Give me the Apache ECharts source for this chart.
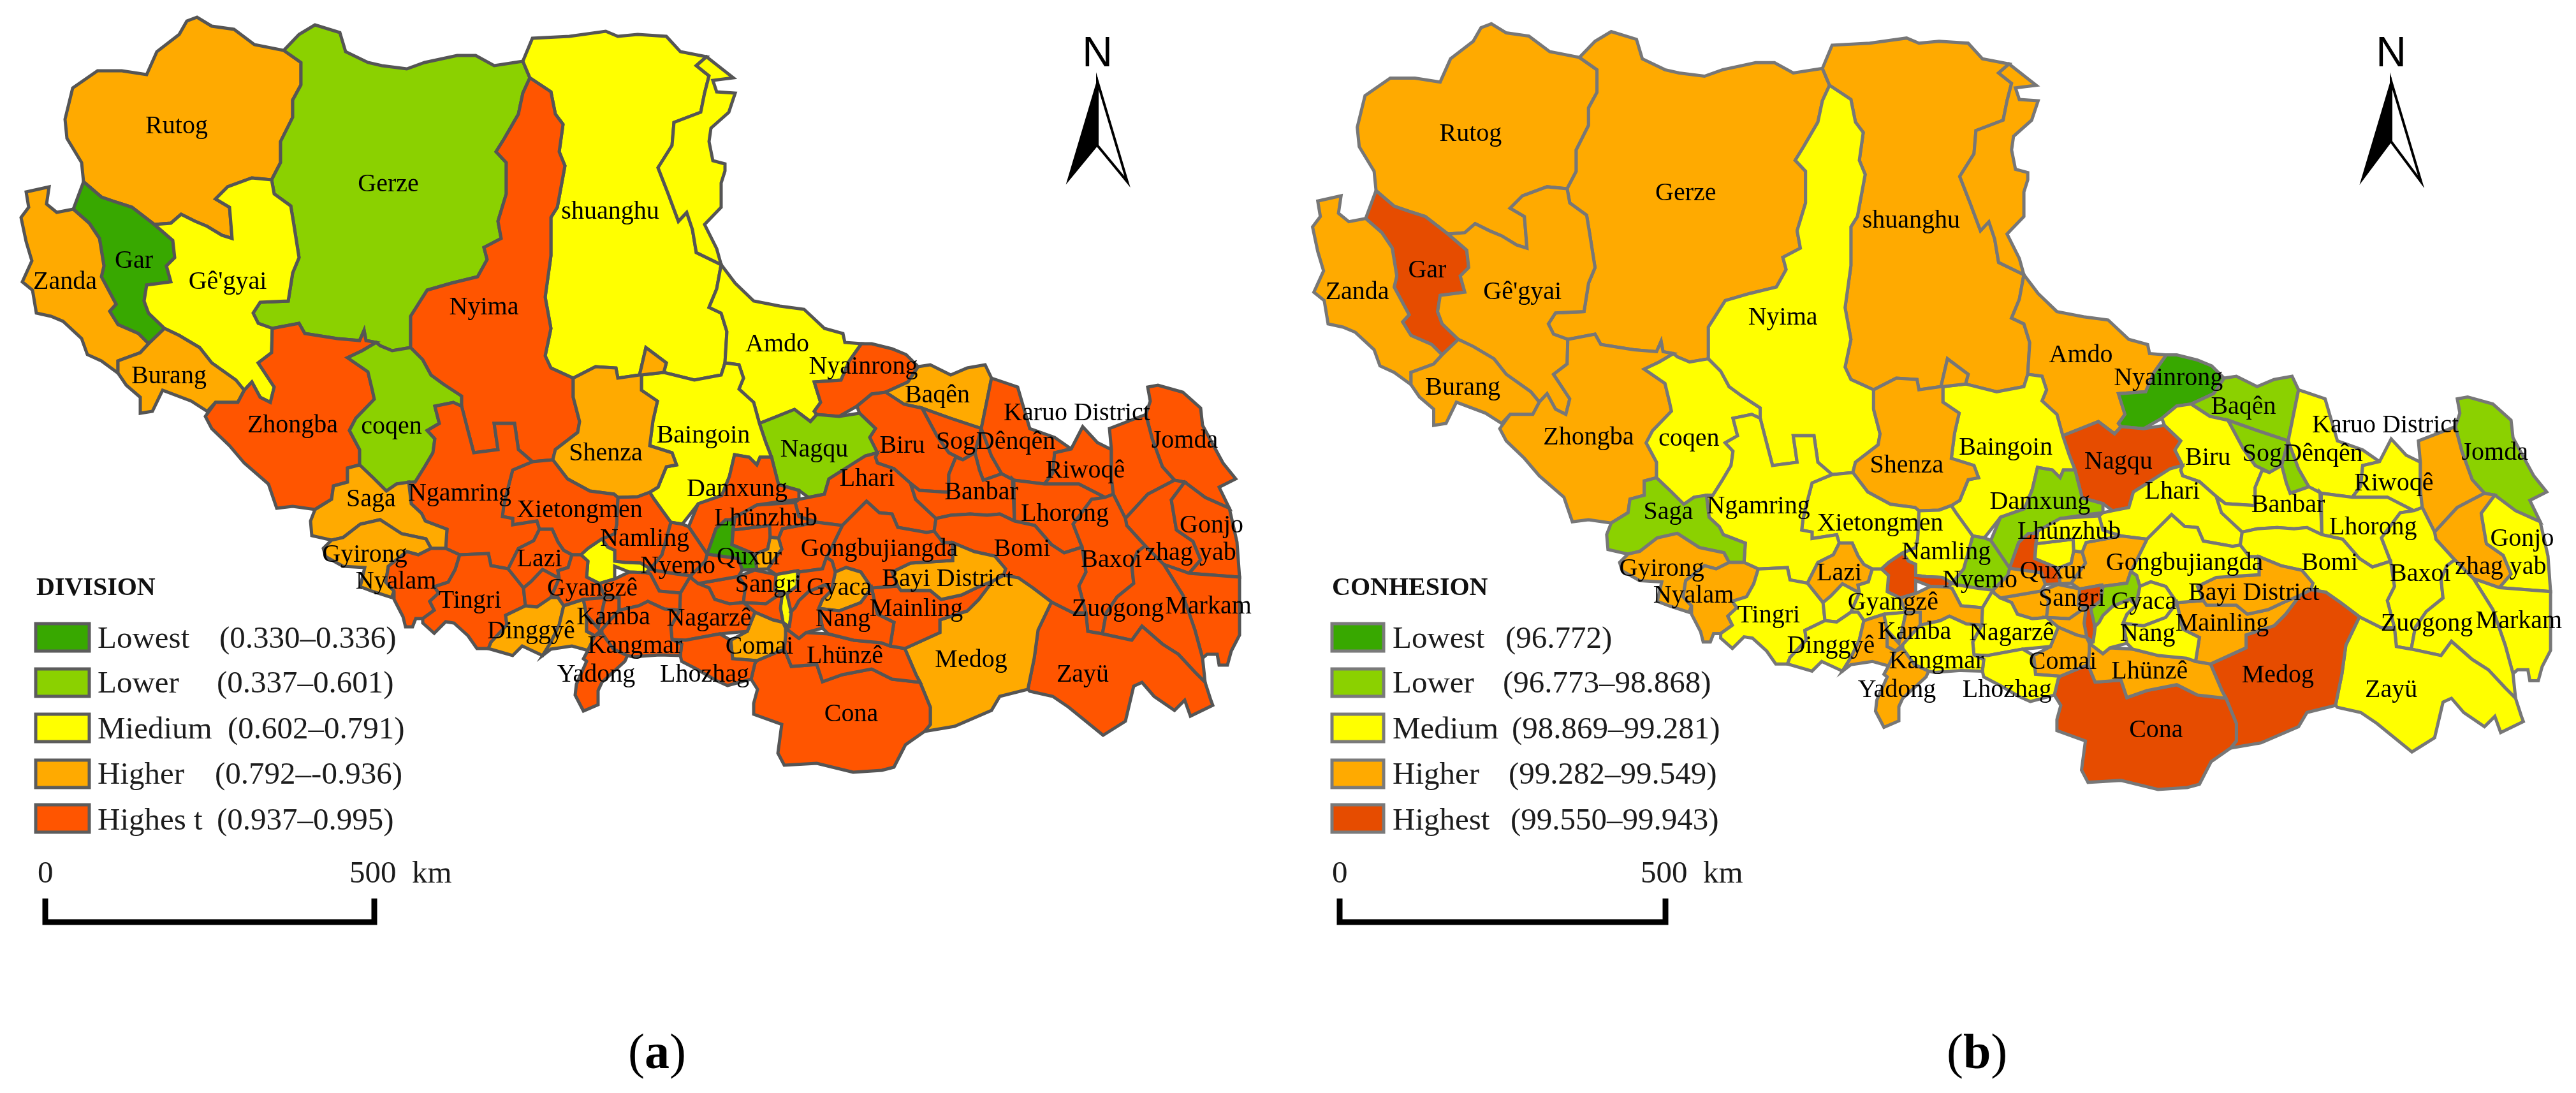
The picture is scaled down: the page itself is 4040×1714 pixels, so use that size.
<!DOCTYPE html>
<html lang="en">
<head>
<meta charset="UTF-8">
<title>Division and cohesion</title>
<script src="https://cdn.jsdelivr.net/npm/echarts@6/dist/echarts.min.js"></script>
<style>
  html, body { margin: 0; padding: 0; background: #fff; }
  #main { width: 4040px; height: 1714px; }
</style>
</head>
<body>
<div id="main"></div>
<script>
// county names, "part n" = a polygon that has no label of its own
var regionNames = ['Rutog','Gerze','shuanghu','part 1','Gar','Zanda',"Gê'gyai",'Burang','Zhongba','coqen','Nyima','Amdo','Nyainrong','Baqên','Jomda','Sog','part 2','Dênqên','Biru','Nagqu','Baingoin','Shenza','Damxung','Lhari','Banbar','Riwoqê','Lhorong','Karuo District','zhag yab','Gonjo','Markam','Baxoi','Zuogong','Zayü','Bomi','Medog','Cona','Lhünzê','Mainling','Bayi District','Gongbujiangda','Gyaca','Nang','part 3','part 4','part 5','part 6','part 7','Sangri','part 8','Comai','Nagarzê','Lhozhag','Quxur','part 9','part 10','part 11','Lhünzhub','Nyemo','part 12','Namling','part 13','Xietongmen','Ngamring','Saga','Gyirong','Nyalam','Tingri','Lazi','part 14','Gyangzê','Dinggyê','part 15','part 16','Kangmar','part 17','Kamba','Yadong'];

// class of each county, 1 lowest .. 5 highest, same order as regionNames
var divisionClass = [4,2,3,3,1,4,3,4,5,2,5,3,5,4,5,5,5,5,5,2,3,4,5,5,5,5,5,5,5,5,5,5,5,5,5,4,5,5,5,4,5,4,5,5,5,3,5,5,5,5,4,5,5,1,5,4,5,5,5,5,5,3,5,5,4,4,5,5,5,5,5,4,4,5,5,5,5,5];
var cohesionClass = [4,4,4,4,5,4,4,4,4,3,3,4,1,2,2,2,2,3,3,5,3,4,2,3,3,3,3,4,4,3,3,3,3,3,3,5,5,4,4,4,3,3,3,4,2,5,3,4,4,4,4,3,3,5,3,4,4,3,2,3,3,5,3,3,2,4,4,3,4,3,3,3,4,3,4,4,3,4];

var classColorsA = ['#38A800','#8BD100','#FFFF00','#FFAA00','#FF5500'];
var classColorsB = ['#38A800','#8BD100','#FFFF00','#FFAA00','#E64C00'];

var classNamesA = ['Lowest','Lower','Miedium','Higher','Highes t'];
var classRangesA = ['(0.330–0.336)','(0.337–0.601)','(0.602–0.791)','(0.792–-0.936)','(0.937–0.995)'];
var classNamesB = ['Lowest','Lower','Medium','Higher','Highest'];
var classRangesB = ['(96.772)','(96.773–98.868)','(98.869–99.281)','(99.282–99.549)','(99.550–99.943)'];

// county outlines in its pixels
var regionOutlines = {
  'Rutog': [[[102,187],[114,138],[153,111],[191,111],[230,117],[246,81],[281,54],[293,33],[309,27],[332,41],[367,46],[399,70],[445,79],[472,98],[472,133],[459,157],[459,184],[440,222],[440,255],[426,282],[395,279],[357,293],[338,312],[360,325],[364,374],[348,369],[325,355],[306,347],[284,336],[268,350],[242,352],[207,325],[182,317],[159,309],[131,285],[128,255],[105,217]]],
  'Gerze': [[[445,79],[469,54],[494,39],[533,51],[542,81],[577,98],[599,103],[638,108],[666,98],[717,87],[746,87],[775,103],[820,96],[831,122],[820,146],[813,179],[791,217],[778,238],[794,255],[794,304],[781,347],[786,374],[759,388],[764,407],[749,434],[708,444],[670,455],[644,496],[644,545],[615,550],[596,542],[590,537],[574,534],[571,518],[564,534],[529,531],[478,523],[469,507],[427,515],[405,507],[397,491],[408,474],[452,472],[459,428],[469,404],[460,347],[456,323],[430,304],[426,282],[440,255],[440,222],[459,184],[459,157],[472,133],[472,98]]],
  'shuanghu': [[[820,96],[835,60],[893,57],[950,49],[969,57],[1000,54],[1045,57],[1067,81],[1108,89],[1092,103],[1112,119],[1105,146],[1099,176],[1057,192],[1054,228],[1032,263],[1048,304],[1064,347],[1077,333],[1086,360],[1092,396],[1131,415],[1124,453],[1112,482],[1131,491],[1140,520],[1137,569],[1131,588],[1089,596],[1041,584],[1045,569],[1013,545],[1003,588],[969,593],[966,577],[934,575],[899,593],[864,577],[855,558],[864,515],[855,466],[864,401],[864,341],[874,325],[886,260],[877,238],[883,195],[871,179],[864,144],[831,122]]],
  'part 1': [[[1108,89],[1150,122],[1118,126],[1124,144],[1153,146],[1143,176],[1115,201],[1112,222],[1118,252],[1137,257],[1137,268],[1131,287],[1131,325],[1105,352],[1124,390],[1131,415],[1092,396],[1086,360],[1077,333],[1064,347],[1048,304],[1032,263],[1054,228],[1057,192],[1099,176],[1105,146],[1112,119],[1092,103]]],
  'Gar': [[[131,285],[115,328],[140,350],[156,374],[163,417],[159,434],[182,477],[172,488],[185,509],[217,523],[233,539],[258,515],[233,491],[226,472],[230,447],[268,442],[261,417],[274,404],[271,377],[242,352],[207,325],[182,317],[159,309]],[[271,369],[287,358],[306,359],[319,371],[293,370]]],
  'Zanda': [[[41,301],[77,293],[73,320],[89,333],[115,328],[140,350],[156,374],[163,417],[159,434],[182,477],[172,488],[185,509],[217,523],[233,539],[220,553],[185,566],[185,585],[159,566],[137,556],[128,531],[99,504],[80,496],[57,491],[51,455],[35,442],[50,409],[41,379],[33,341],[45,325]]],
  "Gê'gyai": [[[242,352],[268,350],[284,336],[306,347],[325,355],[348,369],[364,374],[360,325],[338,312],[357,293],[395,279],[426,282],[430,304],[456,323],[460,347],[469,404],[459,428],[452,472],[408,474],[397,491],[405,507],[427,515],[426,553],[405,569],[430,607],[424,631],[408,623],[395,599],[383,612],[370,596],[332,569],[313,545],[281,526],[258,515],[233,491],[226,472],[230,447],[268,442],[261,417],[274,404],[271,377]]],
  'Burang': [[[233,539],[258,515],[281,526],[313,545],[332,569],[370,596],[383,612],[373,631],[338,631],[325,645],[300,629],[255,612],[239,645],[220,648],[220,623],[198,604],[185,585],[185,566],[220,553]]],
  'Zhongba': [[[427,515],[469,507],[478,523],[529,531],[564,534],[571,518],[574,534],[590,537],[568,550],[545,561],[577,583],[584,612],[587,626],[558,656],[548,675],[564,705],[564,729],[545,734],[545,756],[523,762],[520,783],[494,799],[459,794],[434,797],[421,759],[383,726],[360,699],[332,672],[322,653],[338,631],[373,631],[383,612],[395,599],[408,623],[424,631],[430,607],[405,569],[426,553]]],
  'coqen': [[[590,537],[596,542],[615,550],[644,545],[663,564],[676,588],[695,602],[724,621],[724,637],[711,631],[682,637],[689,664],[670,675],[682,688],[679,710],[666,732],[651,756],[622,759],[606,770],[587,751],[564,729],[564,705],[548,675],[558,656],[587,626],[584,612],[577,583],[545,561],[568,550]]],
  'Nyima': [[[831,122],[864,144],[871,179],[883,195],[877,238],[886,260],[874,325],[864,341],[864,401],[855,466],[864,515],[855,558],[864,577],[899,593],[899,623],[909,661],[906,678],[871,705],[867,721],[835,724],[813,705],[807,664],[775,664],[781,705],[743,710],[733,672],[724,637],[724,621],[695,602],[676,588],[663,564],[644,545],[644,496],[670,455],[708,444],[749,434],[764,407],[759,388],[786,374],[781,347],[794,304],[794,255],[778,238],[791,217],[813,179],[820,146]]],
  'Amdo': [[[1131,415],[1153,444],[1182,472],[1223,480],[1261,485],[1293,515],[1322,523],[1325,537],[1351,539],[1332,566],[1319,596],[1277,599],[1287,631],[1277,645],[1281,650],[1271,661],[1246,642],[1191,664],[1182,631],[1159,610],[1166,593],[1159,572],[1137,569],[1140,520],[1131,491],[1112,482],[1124,453]]],
  'Nyainrong': [[[1351,539],[1367,539],[1399,547],[1421,556],[1440,575],[1424,599],[1389,615],[1367,618],[1344,637],[1316,653],[1281,650],[1277,645],[1287,631],[1277,599],[1319,596],[1332,566]]],
  'Baqên': [[[1440,575],[1459,572],[1491,588],[1517,577],[1545,572],[1555,593],[1539,672],[1491,656],[1446,640],[1418,634],[1389,615],[1424,599]]],
  'Jomda': [[[1800,607],[1816,604],[1855,615],[1883,640],[1886,667],[1918,726],[1938,751],[1912,764],[1928,797],[1890,780],[1858,756],[1842,753],[1823,732],[1807,688],[1797,650],[1804,629]]],
  'Sog': [[[1446,640],[1491,656],[1539,672],[1529,710],[1510,721],[1488,710],[1469,683]]],
  'part 2': [[[1539,672],[1555,715],[1571,743],[1542,753],[1536,737],[1529,710]]],
  'Dênqên': [[[1555,593],[1564,596],[1596,607],[1603,631],[1615,672],[1654,686],[1680,704],[1654,710],[1651,742],[1638,759],[1590,753],[1571,743],[1555,715],[1539,672]]],
  'Biru': [[[1344,637],[1367,618],[1389,615],[1418,634],[1446,640],[1469,683],[1488,710],[1510,721],[1499,717],[1488,744],[1488,772],[1442,769],[1428,758],[1402,735],[1376,726],[1373,717],[1376,710],[1364,686],[1373,672],[1348,648]]],
  'Nagqu': [[[1191,664],[1246,642],[1271,661],[1281,650],[1316,653],[1348,648],[1373,672],[1364,686],[1376,710],[1357,715],[1300,751],[1293,775],[1268,780],[1253,769],[1221,760],[1210,717],[1201,694]]],
  'Baingoin': [[[1006,588],[1041,584],[1089,596],[1131,588],[1137,569],[1159,572],[1166,593],[1159,610],[1182,631],[1191,664],[1201,694],[1210,717],[1192,717],[1187,729],[1175,717],[1152,713],[1144,747],[1132,777],[1095,790],[1070,822],[1052,819],[1026,783],[1019,772],[1032,764],[1045,732],[1061,729],[1054,710],[1019,699],[1024,660],[1031,629],[1006,612]]],
  'Shenza': [[[899,593],[934,575],[966,577],[969,593],[1003,588],[1013,545],[1045,569],[1041,584],[1006,588],[1006,612],[1031,629],[1024,660],[1019,699],[1054,710],[1061,729],[1045,732],[1032,764],[1019,772],[1000,779],[969,780],[963,775],[925,770],[890,751],[867,721],[871,705],[906,678],[909,661],[899,623]]],
  'Damxung': [[[1152,713],[1175,717],[1187,729],[1192,717],[1210,717],[1221,760],[1253,769],[1253,783],[1227,786],[1187,792],[1146,815],[1123,829],[1109,869],[1080,826],[1095,790],[1132,777],[1144,747]]],
  'Lhari': [[[1253,783],[1268,780],[1293,775],[1300,751],[1357,715],[1376,710],[1373,717],[1376,726],[1402,735],[1428,758],[1436,783],[1468,813],[1465,833],[1453,835],[1408,827],[1399,806],[1379,804],[1359,786],[1321,824],[1281,819],[1253,810],[1247,788]]],
  'Banbar': [[[1488,744],[1499,717],[1510,721],[1529,710],[1536,737],[1542,753],[1571,743],[1590,753],[1588,751],[1591,817],[1568,806],[1548,808],[1522,806],[1491,808],[1468,813],[1436,783],[1428,758],[1442,769],[1488,772]]],
  'Riwoqê': [[[1680,704],[1698,669],[1721,694],[1743,705],[1743,748],[1746,775],[1733,780],[1692,759],[1663,759],[1638,759],[1651,742],[1654,710]]],
  'Lhorong': [[[1590,753],[1638,759],[1663,759],[1692,759],[1733,780],[1712,783],[1683,822],[1697,858],[1669,867],[1649,854],[1623,824],[1591,817]]],
  'Karuo District': [[[1740,672],[1797,650],[1807,688],[1823,732],[1842,753],[1800,775],[1765,813],[1746,775],[1743,748],[1743,705]]],
  'zhag yab': [[[1800,775],[1842,753],[1858,756],[1837,784],[1845,831],[1871,849],[1883,878],[1865,899],[1825,885],[1796,856],[1767,824],[1765,813]]],
  'Gonjo': [[[1837,784],[1858,756],[1890,780],[1928,797],[1940,850],[1944,905],[1865,899],[1883,878],[1871,849],[1845,831]]],
  'Markam': [[[1825,885],[1865,899],[1944,905],[1944,996],[1931,1021],[1925,1043],[1912,1043],[1909,1026],[1893,1026],[1886,1032],[1874,988],[1855,933]]],
  'Baxoi': [[[1733,780],[1746,775],[1765,813],[1767,824],[1796,856],[1784,865],[1775,886],[1778,915],[1752,936],[1735,961],[1729,994],[1706,990],[1703,961],[1692,919],[1703,897],[1697,858],[1683,822],[1712,783]]],
  'Zuogong': [[[1796,856],[1825,885],[1855,933],[1874,988],[1886,1032],[1890,1070],[1874,1054],[1848,1026],[1823,1010],[1791,982],[1775,1004],[1729,994],[1735,961],[1752,936],[1778,915],[1775,886],[1784,865]]],
  'Zayü': [[[1649,944],[1683,961],[1703,961],[1706,990],[1729,994],[1775,1004],[1791,982],[1823,1010],[1848,1026],[1874,1054],[1890,1070],[1899,1098],[1902,1106],[1867,1123],[1858,1098],[1842,1114],[1810,1092],[1791,1070],[1778,1076],[1765,1131],[1730,1153],[1676,1109],[1651,1092],[1615,1084],[1612,1081],[1622,1032],[1628,988]]],
  'Bomi': [[[1468,813],[1491,808],[1522,806],[1548,808],[1568,806],[1591,817],[1623,824],[1649,854],[1669,867],[1697,858],[1703,897],[1692,919],[1703,961],[1683,961],[1649,944],[1620,922],[1597,906],[1574,902],[1577,892],[1560,872],[1528,865],[1494,851],[1479,851],[1465,833]]],
  'Medog': [[[1419,1017],[1437,1059],[1443,1070],[1459,1109],[1459,1136],[1450,1147],[1497,1139],[1555,1114],[1568,1092],[1612,1081],[1622,1032],[1628,988],[1649,944],[1620,922],[1597,906],[1574,902],[1557,911],[1535,940],[1517,958],[1474,972],[1474,992]]],
  'Cona': [[[1187,1036],[1230,1018],[1241,1045],[1281,1042],[1290,1069],[1321,1058],[1367,1049],[1399,1065],[1443,1070],[1459,1109],[1459,1136],[1450,1147],[1420,1168],[1402,1203],[1383,1208],[1338,1211],[1281,1197],[1230,1200],[1220,1181],[1226,1136],[1182,1120],[1182,1103],[1188,1081],[1178,1065],[1184,1040]]],
  'Lhünzê': [[[1232,985],[1253,1001],[1264,992],[1299,994],[1339,1004],[1382,1008],[1396,1013],[1419,1017],[1437,1059],[1443,1070],[1399,1065],[1367,1049],[1321,1058],[1290,1069],[1281,1042],[1241,1045],[1230,1018],[1232,997]]],
  'Mainling': [[[1367,922],[1408,919],[1413,926],[1459,926],[1476,940],[1508,933],[1531,922],[1557,911],[1535,940],[1517,958],[1474,972],[1474,992],[1419,1017],[1396,1013],[1402,976],[1376,963]]],
  'Bayi District': [[[1399,897],[1428,883],[1494,879],[1494,851],[1528,865],[1560,872],[1577,892],[1574,902],[1557,911],[1531,922],[1508,933],[1476,940],[1459,926],[1413,926],[1408,919]]],
  'Gongbujiangda': [[[1321,824],[1359,786],[1379,804],[1399,806],[1408,827],[1453,835],[1465,833],[1479,851],[1494,851],[1494,879],[1428,883],[1399,897],[1408,919],[1367,922],[1350,897],[1327,890],[1310,897],[1305,880],[1296,874],[1299,869]]],
  'Gyaca': [[[1310,897],[1327,890],[1350,897],[1367,922],[1350,945],[1316,958],[1284,954],[1290,940],[1304,926]]],
  'Nang': [[[1284,954],[1316,958],[1350,945],[1367,922],[1376,963],[1402,976],[1396,1013],[1382,1008],[1339,1004],[1299,994],[1290,985]]],
  'part 3': [[[1227,829],[1281,819],[1321,824],[1299,869],[1296,874],[1290,892],[1253,897],[1251,895],[1217,901],[1204,892],[1226,861],[1221,844]]],
  'part 4': [[[1253,897],[1290,892],[1296,874],[1305,880],[1310,897],[1304,926],[1294,917],[1268,928],[1253,942],[1247,953],[1240,960],[1234,931],[1250,919]]],
  'part 5': [[[1217,901],[1251,895],[1250,919],[1234,931],[1241,961],[1238,983],[1228,976],[1224,954],[1227,929],[1215,926]]],
  'part 6': [[[1247,953],[1253,942],[1268,928],[1294,917],[1304,926],[1290,940],[1284,954],[1290,985],[1264,992],[1253,1001],[1232,985],[1238,983],[1241,961],[1240,960]]],
  'part 7': [[[1095,915],[1158,904],[1169,919],[1166,945],[1144,947],[1121,940],[1112,922]]],
  'Sangri': [[[1158,904],[1184,894],[1217,901],[1215,926],[1227,929],[1201,947],[1166,945],[1169,919]]],
  'part 8': [[[1166,945],[1201,947],[1227,929],[1224,954],[1228,976],[1212,972],[1184,960]]],
  'Comai': [[[1184,960],[1212,972],[1228,976],[1232,985],[1232,997],[1230,1018],[1187,1036],[1149,1033],[1146,1004],[1172,990]]],
  'Nagarzê': [[[1067,930],[1083,903],[1086,908],[1095,915],[1112,922],[1121,940],[1144,947],[1166,945],[1184,960],[1172,990],[1129,994],[1075,1004],[1054,1003],[1052,983],[1066,957]]],
  'Lhozhag': [[[1054,1003],[1075,1004],[1129,994],[1146,1004],[1149,1033],[1187,1036],[1184,1040],[1178,1065],[1141,1075],[1123,1067],[1094,1050],[1069,1037],[1067,1028],[1069,1010]]],
  'Quxur': [[[1138,815],[1152,815],[1149,833],[1148,854],[1184,869],[1187,893],[1164,894],[1158,876],[1109,869],[1123,829]]],
  'part 9': [[[1150,831],[1207,824],[1208,842],[1204,861],[1184,869],[1148,854]]],
  'part 10': [[[1208,842],[1221,844],[1226,861],[1204,892],[1187,893],[1184,869],[1204,861]]],
  'part 11': [[[1109,869],[1158,876],[1164,894],[1158,904],[1095,915],[1086,908],[1083,903],[1106,880]]],
  'Lhünzhub': [[[1187,792],[1247,788],[1253,810],[1281,819],[1227,829],[1221,844],[1208,842],[1207,824],[1150,831],[1152,815],[1146,815]]],
  'Nyemo': [[[1052,819],[1070,822],[1080,826],[1109,869],[1106,880],[1083,903],[1060,900],[1030,895],[1020,892],[1038,870]]],
  'part 12': [[[1020,892],[1030,895],[1060,900],[1083,903],[1067,930],[1034,927],[1020,900],[1013,898]]],
  'Namling': [[[969,780],[1000,779],[1019,772],[1026,783],[1052,819],[1038,870],[1020,892],[1005,883],[980,882],[964,880],[964,863],[953,858],[944,845],[964,837],[967,823]]],
  'part 13': [[[944,845],[922,860],[911,870],[922,880],[920,905],[940,915],[964,908],[964,888],[987,897],[1013,898],[1020,892],[1005,883],[980,882],[964,880],[964,863],[953,858]]],
  'Xietongmen': [[[804,737],[835,724],[867,721],[890,751],[925,770],[963,775],[969,780],[967,823],[964,837],[944,845],[922,860],[911,870],[897,870],[884,863],[875,850],[866,830],[846,830],[842,817],[804,823],[804,813],[788,810],[790,793],[797,764]]],
  'Ngamring': [[[724,637],[733,672],[743,710],[781,705],[775,664],[807,664],[813,705],[835,724],[804,737],[797,764],[790,793],[788,810],[804,813],[804,823],[842,817],[846,830],[837,848],[813,860],[799,888],[797,892],[770,887],[766,868],[721,870],[699,860],[701,830],[667,817],[661,805],[645,790],[641,756],[651,756],[666,732],[679,710],[682,688],[670,675],[689,664],[682,637],[711,631]]],
  'Saga': [[[494,799],[520,783],[523,762],[545,756],[545,734],[564,729],[587,751],[606,770],[622,759],[641,756],[645,790],[661,805],[667,817],[701,830],[699,860],[676,860],[668,845],[630,837],[596,815],[565,822],[538,843],[520,847],[489,840],[487,817]]],
  'Gyirong': [[[538,843],[565,822],[596,815],[630,837],[668,845],[676,860],[656,870],[638,865],[609,888],[605,913],[618,927],[614,937],[583,927],[565,920],[572,890],[538,888],[511,873],[507,860],[520,847]]],
  'Nyalam': [[[609,888],[638,865],[656,870],[676,860],[699,860],[721,870],[714,893],[703,913],[681,920],[688,930],[674,943],[681,957],[663,970],[652,970],[647,983],[636,983],[632,967],[618,940],[618,927],[605,913]]],
  'Tingri': [[[721,870],[766,868],[770,887],[797,892],[821,922],[824,950],[793,965],[795,980],[770,1007],[766,1017],[748,1017],[734,997],[712,977],[699,975],[681,993],[663,977],[663,970],[681,957],[674,943],[688,930],[681,920],[703,913],[714,893]]],
  'Lazi': [[[846,830],[866,830],[875,850],[884,863],[897,870],[891,890],[875,895],[877,907],[851,893],[833,912],[821,922],[797,892],[799,888],[813,860],[837,848]]],
  'part 14': [[[821,922],[833,912],[851,893],[877,907],[864,937],[842,952],[824,950]]],
  'Gyangzê': [[[875,895],[891,890],[897,870],[911,870],[922,880],[920,905],[940,915],[949,937],[915,940],[884,950],[875,937],[864,937],[877,907]]],
  'Dinggyê': [[[793,965],[824,950],[842,952],[864,937],[875,937],[884,950],[877,980],[864,1007],[851,1028],[819,1013],[804,1028],[766,1017],[770,1007],[795,980]]],
  'part 15': [[[884,950],[915,940],[920,965],[920,990],[933,997],[922,1020],[897,1013],[864,1018],[851,1028],[864,1007],[877,980]]],
  'part 16': [[[915,940],[949,937],[944,960],[938,985],[920,965]]],
  'Kangmar': [[[949,937],[971,937],[971,957],[944,987],[933,997],[920,990],[920,965],[938,985],[944,960]]],
  'part 17': [[[964,908],[987,897],[1013,898],[1020,900],[1034,927],[1067,930],[1066,957],[1042,955],[1016,943],[1002,950],[971,957],[971,937],[949,937],[940,915]]],
  'Kamba': [[[971,957],[1002,950],[1016,943],[1042,955],[1066,957],[1052,983],[1054,1003],[1069,1010],[1067,1028],[1034,1027],[993,1030],[984,1028],[962,1018],[944,993],[944,987]]],
  'Yadong': [[[933,997],[944,993],[962,1018],[984,1028],[980,1037],[944,1070],[938,1083],[938,1105],[915,1115],[902,1090],[904,1073],[920,1037],[915,1033],[922,1020]]]
};

var labelPoints = {
  'Rutog':[277,198],'Gerze':[609,289],'shuanghu':[957,332],'Gar':[210,409],'Zanda':[102,442],"Gê'gyai":[357,442],'Burang':[265,590],'Zhongba':[459,667],'coqen':[614,669],'Nyima':[759,482],'Amdo':[1219,540],'Nyainrong':[1354,575],'Baqên':[1470,620],'Jomda':[1858,691],'Sog':[1499,693],'Dênqên':[1593,693],'Biru':[1415,699],'Nagqu':[1277,705],'Baingoin':[1103,683],'Shenza':[950,711],'Damxung':[1156,767],'Lhari':[1360,751],'Banbar':[1539,772],'Riwoqê':[1702,738],'Lhorong':[1670,806],'Karuo District':[1689,648],'zhag yab':[1867,867],'Gonjo':[1900,824],'Markam':[1895,951],'Baxoi':[1743,878],'Zuogong':[1753,955],'Zayü':[1698,1058],'Bomi':[1603,861],'Medog':[1523,1035],'Cona':[1335,1120],'Lhünzê':[1325,1029],'Mainling':[1437,955],'Bayi District':[1486,908],'Gongbujiangda':[1379,861],'Gyaca':[1316,922],'Nang':[1322,971],'Sangri':[1205,917],'Comai':[1191,1014],'Nagarzê':[1112,970],'Lhozhag':[1105,1058],'Quxur':[1175,874],'Lhünzhub':[1201,813],'Nyemo':[1063,888],'Namling':[1011,845],'Xietongmen':[909,800],'Ngamring':[721,774],'Saga':[582,783],'Gyirong':[572,870],'Nyalam':[621,912],'Tingri':[737,942],'Lazi':[846,877],'Gyangzê':[929,923],'Dinggyê':[833,990],'Kangmar':[996,1013],'Kamba':[962,968],'Yadong':[935,1058]
};

var chart = echarts.init(document.getElementById('main'));

// the right panel is the same map, a little bigger
var SCALE_BX = 1.016, SCALE_BY = 1.014, SHIFT_BX = 2025, SHIFT_BY = 10;

function buildGeoJson() {
  var features = regionNames.map(function (name) {
    var rings = regionOutlines[name].map(function (ring) {
      return [ring.map(function (p) { return [p[0], -p[1]]; })];
    });
    var props = { name: name };
    if (labelPoints[name]) props.cp = [labelPoints[name][0], -labelPoints[name][1]];
    return { type: 'Feature', properties: props, geometry: { type: 'MultiPolygon', coordinates: rings } };
  });
  return { type: 'FeatureCollection', features: features };
}

function outlineBox() {
  var x0 = 1e9, y0 = 1e9, x1 = -1e9, y1 = -1e9;
  regionNames.forEach(function (name) {
    regionOutlines[name].forEach(function (ring) {
      ring.forEach(function (p) {
        x0 = Math.min(x0, p[0]); x1 = Math.max(x1, p[0]);
        y0 = Math.min(y0, p[1]); y1 = Math.max(y1, p[1]);
      });
    });
  });
  return { x: x0, y: y0, w: x1 - x0, h: y1 - y0 };
}

var geoJson = buildGeoJson();
echarts.registerMap('tibetDivision', geoJson);
echarts.registerMap('tibetCohesion', geoJson);

function seriesData(classes) {
  return regionNames.map(function (name, i) {
    var item = { name: name, value: classes[i] };
    if (!labelPoints[name]) item.label = { show: false };
    return item;
  });
}

function mapSeries(mapName, classes, box, borderColor) {
  return {
    type: 'map',
    map: mapName,
    left: box.x, top: box.y, width: box.w, height: box.h,
    roam: false,
    silent: true,
    selectedMode: false,
    showLegendSymbol: false,
    label: { show: true, color: '#000', fontFamily: 'Liberation Serif', fontSize: 40 },
    itemStyle: { borderColor: borderColor, borderWidth: 5, areaColor: '#fff' },
    data: seriesData(classes)
  };
}

function pieces(colors) {
  return colors.map(function (c, i) { return { value: i + 1, color: c }; });
}

// legend, scale bar and north arrow
var serif = 'Liberation Serif';
var SWATCH_TOP = [978, 1049, 1120, 1192, 1262];
var SWATCH_H = 43;
var ROW_MID = [1003, 1073, 1145, 1216, 1288];

function txt(x, y, s, size, weight, color) {
  return { type: 'text', x: x, y: y, style: { text: s, fontFamily: serif, fontSize: size, fontWeight: weight || 'normal', fill: color || '#1c1c1c', verticalAlign: 'middle', align: 'left' } };
}

function panelDecor(o) {
  var out = [txt(o.titleX, 923, o.title, 40, 'bold', '#111')];
  o.names.forEach(function (n, i) {
    out.push({ type: 'rect', shape: { x: o.swatchX, y: SWATCH_TOP[i], width: o.swatchW, height: SWATCH_H },
      style: { fill: o.colors[i], stroke: o.stroke, lineWidth: 5 } });
    out.push(txt(o.textX, ROW_MID[i], n, 49));
    out.push(txt(o.rangeX[i], ROW_MID[i], o.ranges[i], 49));
  });
  out.push(txt(o.zeroX, 1371, '0', 49));
  out.push(txt(o.fiveX, 1371, '500  km', 49));
  out.push({ type: 'polyline', shape: { points: [[o.barL, 1409], [o.barL, 1446], [o.barR, 1446], [o.barR, 1409]] },
    style: { stroke: '#000', lineWidth: 9, fill: null } });
  // north arrow
  var a = o.arrow;
  out.push({ type: 'text', x: a.x, y: 86, style: { text: 'N', fontFamily: 'Liberation Sans', fontSize: 66, fill: '#000', align: 'center', verticalAlign: 'middle' } });
  out.push({ type: 'polygon', shape: { points: [[a.x, 127], [a.x - a.w, 285], [a.x, a.notch]] }, style: { fill: '#000', stroke: '#000', lineWidth: 2 } });
  out.push({ type: 'polygon', shape: { points: [[a.x, 127], [a.x + a.w, 285], [a.x, a.notch]] }, style: { fill: '#fff', stroke: '#000', lineWidth: 4 } });
  return out;
}

var boxA = outlineBox();
var boxB = { x: boxA.x * SCALE_BX + SHIFT_BX, y: boxA.y * SCALE_BY + SHIFT_BY, w: boxA.w * SCALE_BX, h: boxA.h * SCALE_BY };

var decor = panelDecor({
  title: 'DIVISION', titleX: 57, names: classNamesA, ranges: classRangesA, colors: classColorsA, stroke: '#5c5c5c',
  swatchX: 56, swatchW: 84, textX: 153, rangeX: [344, 340, 357, 337, 340],
  zeroX: 59, fiveX: 548, barL: 71, barR: 587, arrow: { x: 1721, w: 47, notch: 228 }
}).concat(panelDecor({
  title: 'CONHESION', titleX: 2089, names: classNamesB, ranges: classRangesB, colors: classColorsB, stroke: '#7a7a7a',
  swatchX: 2089, swatchW: 81, textX: 2184, rangeX: [2361, 2357, 2371, 2366, 2369],
  zeroX: 2089, fiveX: 2573, barL: 2101, barR: 2612, arrow: { x: 3750, w: 47, notch: 222 }
}));

function captionText(x, letter) {
  return {
    type: 'text', x: x, y: 1655,
    style: {
      text: '{p|(}{b|' + letter + '}{p|)}',
      verticalAlign: 'middle',
      rich: {
        p: { fontFamily: serif, fontSize: 78, fill: '#000' },
        b: { fontFamily: serif, fontSize: 78, fontWeight: 'bold', fill: '#000' }
      }
    }
  };
}
decor.push(captionText(985, 'a'));
decor.push(captionText(3053, 'b'));

chart.setOption({
  backgroundColor: '#fff',
  animation: false,
  tooltip: { show: false },
  visualMap: [
    { type: 'piecewise', show: false, seriesIndex: 0, pieces: pieces(classColorsA) },
    { type: 'piecewise', show: false, seriesIndex: 1, pieces: pieces(classColorsB) }
  ],
  series: [
    mapSeries('tibetDivision', divisionClass, boxA, '#555555'),
    mapSeries('tibetCohesion', cohesionClass, boxB, '#777777')
  ],
  graphic: decor
});
</script>
</body>
</html>
